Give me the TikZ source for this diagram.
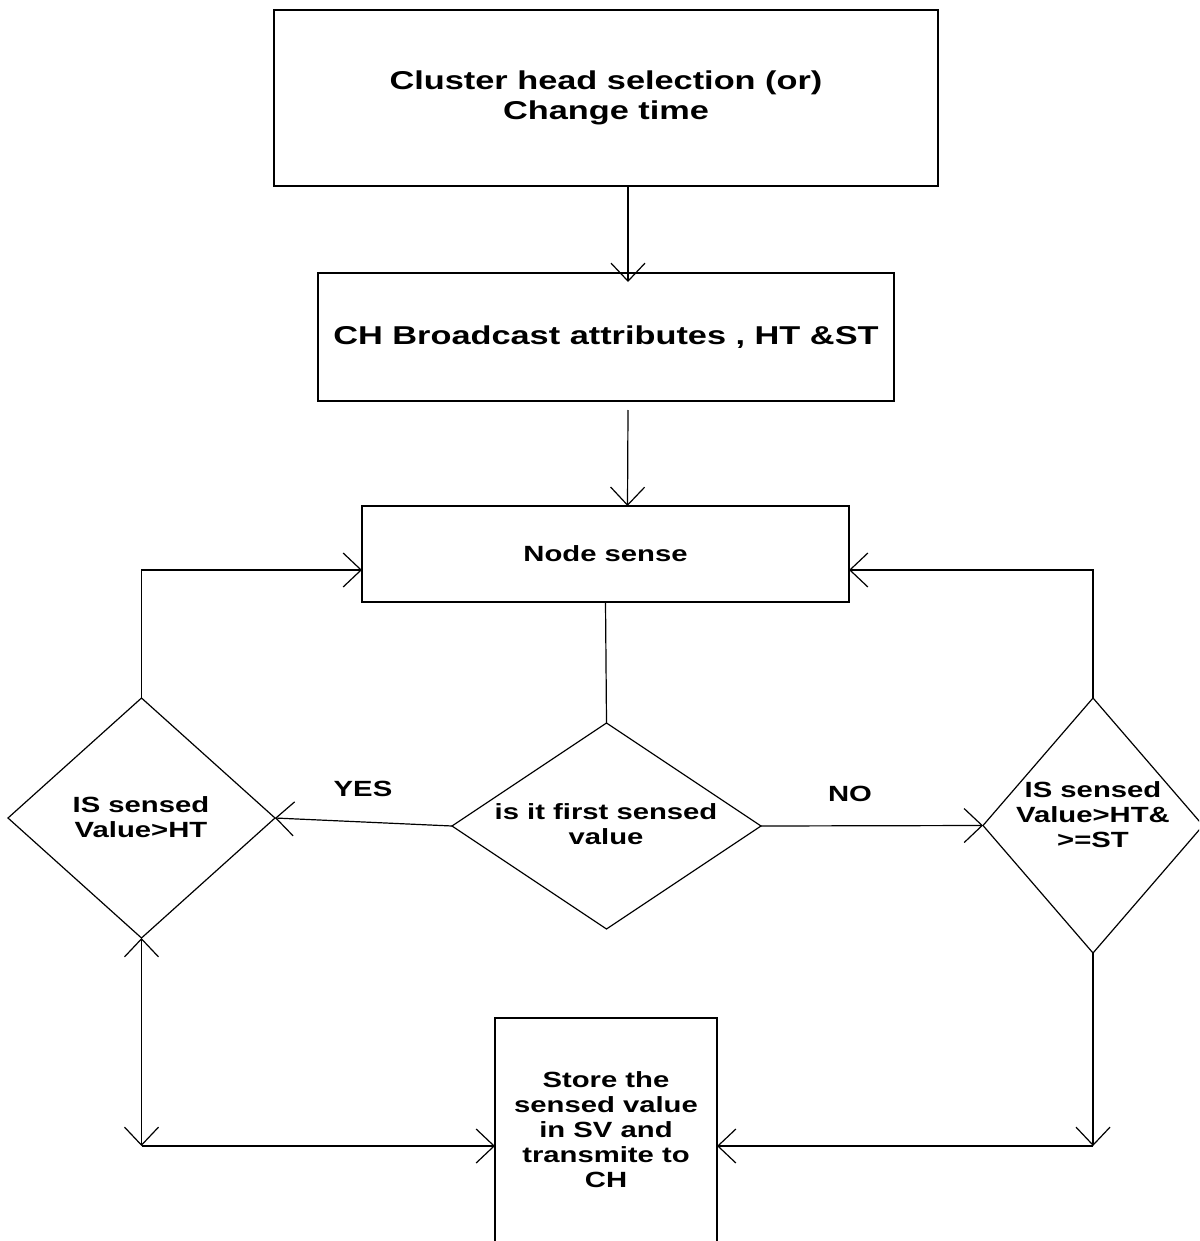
\documentclass[tikz,border=0pt]{standalone}
\usepackage{fontspec}
\setmainfont{Liberation Sans}[FakeStretch=1.33]
\usetikzlibrary{shapes.geometric,arrows.meta}
\newcommand\bigtxt{\fontsize{25.8}{30}\selectfont\bfseries}
\newcommand\smalltxt{\fontsize{22}{25}\selectfont\bfseries}
\tikzset{
  box/.style={draw, line width=1.2pt, inner sep=0pt, outer sep=0pt, align=center, font=\bigtxt},
  sbox/.style={box, font=\smalltxt},
  diam/.style={draw, diamond, line width=1.2pt, inner sep=0pt, outer sep=0pt},
  txt/.style={align=center, font=\smalltxt, inner sep=0pt},
  conn/.style={line width=1.2pt},
  arr/.style={conn, -{Straight Barb[length=18pt,width=34pt]}},
  arrboth/.style={conn, {Straight Barb[length=18pt,width=34pt]}-{Straight Barb[length=18pt,width=34pt]}}
}
\begin{document}
\begin{tikzpicture}[x=1pt,y=-1pt]
\useasboundingbox (0,0) rectangle (1199,1241);
\clip (0,0) rectangle (1199,1241);
% boxes
\node[box, minimum width=664pt, minimum height=176pt] (top) at (606,98) {Cluster head selection (or)\\Change time};
\node[box, minimum width=576pt, minimum height=128pt] (bcast) at (606,337) {CH Broadcast attributes , HT \&ST};
\node[sbox, minimum width=487pt, minimum height=96pt] (sense) at (605.5,554) {Node sense};
% diamonds
\node[diam, minimum width=309pt, minimum height=206pt] (cd) at (606.5,826) {};
\node[txt] (cdtxt) at (606,824.5) {is it first sensed\\value};
\node[diam, minimum width=267pt, minimum height=240pt] (ld) at (141.5,818) {};
\node[txt] (ldtxt) at (141,817.5) {IS sensed\\Value>HT};
\node[diam, minimum width=220pt, minimum height=255pt] (rd) at (1093,825.5) {};
\node[txt] (rdtxt) at (1093,815) {IS sensed\\Value>HT\&\\>=ST};
% store box (bottom cut off by the page)
\node[box, anchor=north, minimum width=222pt, minimum height=262pt] (store) at (606,1018) {};
\node[txt] (storetxt) at (606,1130) {Store the\\sensed value\\in SV and\\transmite to\\CH};
% labels
\node[txt] (yes) at (363,789) {YES};
\node[txt] (no) at (850,794) {NO};
% connectors
\draw[arr, shorten >=-9pt] ([xshift=22pt]top.south) -- ([xshift=22pt]bcast.north);
\draw[arr] ([xshift=22pt,yshift=-9pt]bcast.south) -- ([xshift=22pt]sense.north);
\draw[conn] (sense.south) -- (cd.north);
\draw[arr] (cd.west) -- (ld.east);
\draw[arr] (cd.east) -- (rd.west);
\draw[arr] (ld.north) |- ([yshift=-16pt]sense.west);
\draw[arr] (rd.north) |- ([yshift=-16pt]sense.east);
\coordinate (lc) at (141.5,1146);
\coordinate (rc) at (1093,1146);
\draw[arrboth] (ld.south) -- (lc);
\draw[arr] (lc) -- (store.west |- lc);
\draw[arr] (rd.south) -- (rc);
\draw[arr] (rc) -- (store.east |- rc);
\end{tikzpicture}
\end{document}
